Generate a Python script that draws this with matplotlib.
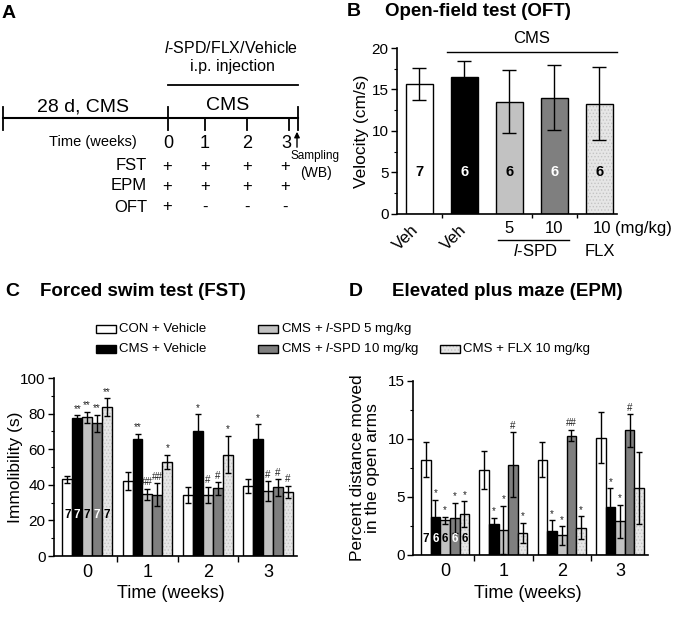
import matplotlib
matplotlib.use('Agg')
import numpy as np
import matplotlib.pyplot as plt
from matplotlib.patches import Rectangle
from matplotlib.ticker import MultipleLocator

plt.rcParams['font.family'] = ['Liberation Sans', 'DejaVu Sans']
plt.rcParams['mathtext.fontset'] = 'custom'
plt.rcParams['mathtext.rm'] = 'Liberation Sans'
plt.rcParams['mathtext.it'] = 'Liberation Sans:italic'
plt.rcParams['hatch.linewidth'] = 0.6

# ---- data ----
groups = ['CON + Vehicle', 'CMS + Vehicle', 'CMS + $\\mathit{l}$-SPD 5 mg/kg',
          'CMS + $\\mathit{l}$-SPD 10 mg/kg', 'CMS + FLX 10 mg/kg']
weeks = [0, 1, 2, 3]

# B: open field, velocity (cm/s)
oft_mean = [15.65, 16.45, 13.55, 14.0, 13.3]
oft_err = [1.95, 1.95, 3.85, 3.9, 4.4]
oft_n = [7, 6, 6, 6, 6]

# C: forced swim, immobility (s); one list per group, over weeks
fst_con = [43, 42, 34, 39.5]
fst_cms = [77.5, 65.5, 70.5, 65.5]
fst_l5 = [78, 34.7, 34.5, 36.5]
fst_l10 = [74.5, 34.5, 38, 38.5]
fst_flx = [83.5, 53, 57, 36]
fst_con_err = [2, 5, 4.5, 4]
fst_cms_err = [1.5, 3.3, 9, 8.5]
fst_l5_err = [3, 3, 4.5, 5.5]
fst_l10_err = [4.8, 6.5, 3.5, 4.8]
fst_flx_err = [5, 4, 10.5, 3.6]
fst_sig = [['', '', '', ''], ['**', '**', '*', '*'], ['**', '##', '#', '#'],
           ['**', '##', '#', '#'], ['**', '*', '*', '#']]
fst_n = [7, 7, 7, 7, 7]

# D: elevated plus maze, % distance in open arms
epm_con = [8.2, 7.3, 8.2, 10.1]
epm_cms = [3.3, 2.7, 2.1, 4.1]
epm_l5 = [3.0, 2.15, 1.7, 2.9]
epm_l10 = [3.2, 7.8, 10.3, 10.75]
epm_flx = [3.55, 1.9, 2.35, 5.8]
epm_con_err = [1.5, 1.65, 1.5, 2.2]
epm_cms_err = [1.45, 0.5, 0.9, 1.65]
epm_l5_err = [0.3, 2.1, 0.8, 1.45]
epm_l10_err = [1.3, 2.8, 0.5, 1.4]
epm_flx_err = [1.1, 0.9, 1.0, 3.1]
epm_sig = [['', '', '', ''], ['*', '*', '*', '*'], ['*', '*', '*', '*'],
           ['*', '#', '##', '#'], ['*', '*', '*', '']]
epm_n = [7, 6, 6, 6, 6]

colors = ['white', 'black', '#c2c2c2', '#7f7f7f', 'flx']
num_colors = ['black', 'white', 'black', 'white', 'black']
FLX_FACE = '#e6e6e6'

W, H = 675, 617
fig = plt.figure(figsize=(6.75, 6.17), dpi=100)

# overlay in pixel coords for panel A, titles and legend
ov = fig.add_axes([0, 0, 1, 1])
ov.set_xlim(0, W)
ov.set_ylim(H, 0)
ov.axis('off')


def px_axes(l, t, r, b):
    return fig.add_axes([l / W, 1 - b / H, (r - l) / W, (b - t) / H])


def draw_bars(ax, x, h, e, col, width, capsize):
    if col == 'flx':
        ax.bar(x, h, width, color=FLX_FACE, edgecolor='#c4c4c4', hatch='.....', linewidth=0)
        ax.bar(x, h, width, fill=False, edgecolor='black', linewidth=1)
    else:
        ax.bar(x, h, width, color=col, edgecolor='black', linewidth=1)
    ax.errorbar(x, h, yerr=e, fmt='none', ecolor='black', elinewidth=1,
                capsize=capsize, capthick=1)


def style_axes(ax, ymax, major, minor):
    ax.set_ylim(0, ymax)
    for s in ['top', 'right']:
        ax.spines[s].set_visible(False)
    for s in ['left', 'bottom']:
        ax.spines[s].set_linewidth(1.2)
    ax.yaxis.set_major_locator(MultipleLocator(major))
    ax.yaxis.set_minor_locator(MultipleLocator(minor))
    ax.tick_params(axis='y', which='major', length=4, width=1, labelsize=11, pad=2)
    ax.tick_params(axis='y', which='minor', length=2, width=0.8)
    ax.patch.set_alpha(0)


# ---------------- panel A ----------------
ov.text(9, 14, 'A', fontsize=14, fontweight='bold', ha='center', va='center')
ov.text(231, 48, '$\\mathit{l}$-SPD/FLX/Vehicle', fontsize=11.5, ha='center', va='center')
ov.text(232, 67, 'i.p. injection', fontsize=11.5, ha='center', va='center')
ov.plot([168, 298], [85, 85], color='black', lw=1.3)
ov.text(228, 105, 'CMS', fontsize=14, ha='center', va='center')
ov.text(83, 107, '28 d, CMS', fontsize=14, ha='center', va='center')
ov.plot([3, 298], [118, 118], color='black', lw=1.5)
for tx in [3, 168, 298]:
    ov.plot([tx, tx], [107, 130], color='black', lw=1.3)
for tx in [205, 247, 289]:
    ov.plot([tx, tx], [118, 130], color='black', lw=1.3)
ov.annotate('', xy=(297, 129), xytext=(297, 150),
            arrowprops=dict(arrowstyle='-|>', color='black', lw=1, mutation_scale=8))
ov.text(137, 142, 'Time (weeks)', fontsize=10.5, ha='right', va='center')
for wx, wl in zip([168, 205, 247, 286], weeks):
    ov.text(wx, 144, str(wl), fontsize=13, ha='center', va='center')
ov.text(315, 156, 'Sampling', fontsize=8.5, ha='center', va='center')
ov.text(316, 173, '(WB)', fontsize=10, ha='center', va='center')
rows = [('FST', 166, ['+', '+', '+', '+']),
        ('EPM', 186, ['+', '+', '+', '+']),
        ('OFT', 207, ['+', '-', '-', '-'])]
for name, ry, marks in rows:
    ov.text(147, ry, name, fontsize=12, ha='right', va='center')
    for mx, m in zip([167, 205, 247, 285], marks):
        ov.text(mx, ry, m, fontsize=12, ha='center', va='center')

# ---------------- panel B ----------------
axb = px_axes(397, 48, 617, 214)
xb = np.arange(len(oft_mean))
for i in range(len(oft_mean)):
    draw_bars(axb, xb[i], oft_mean[i], oft_err[i], colors[i], 0.6, 5)
    axb.text(xb[i], 5, str(oft_n[i]), color=num_colors[i], fontsize=10.5,
             fontweight='bold', ha='center', va='center')
style_axes(axb, 20, 5, 2.5)
axb.set_xlim(-0.5, 4.39)
axb.set_xticks([0.5, 2.5, 3.5])
axb.set_xticklabels([])
axb.tick_params(axis='x', length=3, width=1)
axb.text(-0.16, 0.5, 'Velocity (cm/s)', transform=axb.transAxes, rotation=90,
         fontsize=12.5, ha='center', va='center')
tr = axb.get_xaxis_transform()
for vx in [-0.3, 0.77]:
    axb.text(vx, -0.145, 'Veh', transform=tr, rotation=45, fontsize=12,
             ha='center', va='center')
axb.text(2, -0.09, '5', transform=tr, fontsize=12, ha='center', va='center')
axb.text(3, -0.09, '10', transform=tr, fontsize=12, ha='center', va='center')
axb.text(4.05, -0.09, '10', transform=tr, fontsize=12, ha='center', va='center')
axb.text(4.34, -0.09, '(mg/kg)', transform=tr, fontsize=12, ha='left', va='center')
axb.plot([1.74, 3.32], [-0.157, -0.157], transform=tr, color='black', lw=1, clip_on=False)
axb.text(2.57, -0.223, '$\\mathit{l}$-SPD', transform=tr, fontsize=12, ha='center', va='center')
axb.text(4.0, -0.223, 'FLX', transform=tr, fontsize=12, ha='center', va='center')
axb.plot([0.61, 4.39], [19.5, 19.5], color='black', lw=1, clip_on=False)
axb.text(2.5, 21.1, 'CMS', fontsize=12, ha='center', va='center')
ov.text(354, 12, 'B', fontsize=14, fontweight='bold', ha='center', va='center')
ov.text(385, 12, 'Open-field test (OFT)', fontsize=13.5, fontweight='bold', ha='left', va='center')


# ---------------- panels C and D ----------------
def grouped(ax, means, errs, sig, ns, n_y, sig_off, ymax, major, minor):
    width = 0.165
    x = np.arange(len(weeks))
    for g in range(len(means)):
        xg = x + (g - 2) * width
        for k in range(len(weeks)):
            draw_bars(ax, xg[k], means[g][k], errs[g][k], colors[g], width, 2)
            if sig[g][k]:
                ax.text(xg[k], means[g][k] + errs[g][k] + sig_off, sig[g][k],
                        fontsize=7, ha='center', va='bottom', color='#222222')
        ax.text(xg[0], n_y, str(ns[g]), color=num_colors[g], fontsize=8.5,
                fontweight='bold', ha='center', va='center')
    style_axes(ax, ymax, major, minor)
    ax.set_xlim(-0.55, 3.48)
    ax.set_xticks(x)
    ax.set_xticklabels([str(w) for w in weeks], fontsize=13)
    ax.set_xticks([0.5, 1.5, 2.5], minor=True)
    ax.tick_params(axis='x', which='major', length=0, pad=6)
    ax.tick_params(axis='x', which='minor', length=4, width=1)


axc = px_axes(54, 378, 297, 556)
grouped(axc, [fst_con, fst_cms, fst_l5, fst_l10, fst_flx],
        [fst_con_err, fst_cms_err, fst_l5_err, fst_l10_err, fst_flx_err],
        fst_sig, fst_n, 23, 0.8, 100, 20, 10)
axc.text(-0.16, 0.5, 'Immolibility (s)', transform=axc.transAxes, rotation=90,
         fontsize=12.5, ha='center', va='center')
axc.text(0.48, -0.21, 'Time (weeks)', transform=axc.transAxes, fontsize=13,
         ha='center', va='center')

axd = px_axes(413, 381, 648, 555)
grouped(axd, [epm_con, epm_cms, epm_l5, epm_l10, epm_flx],
        [epm_con_err, epm_cms_err, epm_l5_err, epm_l10_err, epm_flx_err],
        epm_sig, epm_n, 1.35, 0.12, 15, 5, 2.5)
axd.text(-0.205, 0.5, 'Percent distance moved\nin the open arms', transform=axd.transAxes,
         rotation=90, fontsize=12.5, ha='center', va='center', linespacing=0.95)
axd.text(0.49, -0.222, 'Time (weeks)', transform=axd.transAxes, fontsize=13,
         ha='center', va='center')

ov.text(12, 292, 'C', fontsize=14, fontweight='bold', ha='center', va='center')
ov.text(40, 292, 'Forced swim test (FST)', fontsize=13.5, fontweight='bold', ha='left', va='center')
ov.text(356, 292, 'D', fontsize=14, fontweight='bold', ha='center', va='center')
ov.text(392, 292, 'Elevated plus maze (EPM)', fontsize=13.5, fontweight='bold', ha='left', va='center')

# legend (drawn by hand to keep the original 3-column layout)
leg_pos = [(96, 329), (96, 349), (258, 329), (258, 349), (440, 349)]
for g, (lx, ly) in enumerate(leg_pos):
    if colors[g] == 'flx':
        ov.add_patch(Rectangle((lx, ly - 4), 20, 8, facecolor=FLX_FACE, edgecolor='#c4c4c4',
                               hatch='.....', linewidth=0))
        ov.add_patch(Rectangle((lx, ly - 4), 20, 8, fill=False, edgecolor='black', linewidth=1))
    else:
        ov.add_patch(Rectangle((lx, ly - 4), 20, 8, facecolor=colors[g], edgecolor='black',
                               linewidth=1))
    ov.text(lx + 23, ly, groups[g], fontsize=9.5, ha='left', va='center')

fig.savefig('out.png', dpi=100)
